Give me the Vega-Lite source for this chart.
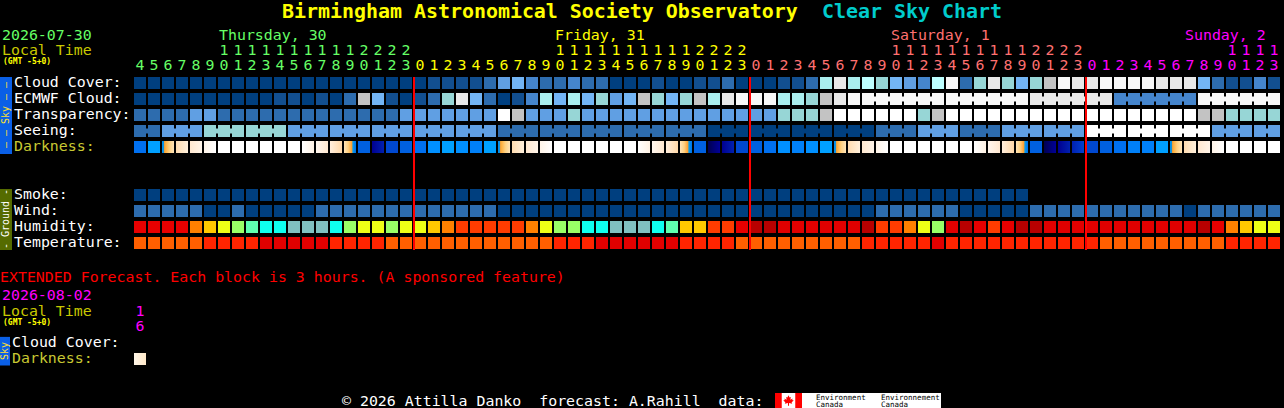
{
"$schema":"https://vega.github.io/schema/vega-lite/v6.json",
"width":1284,"height":408,"padding":0,"autosize":{"type":"none"},
"background":"#000000",
"config":{"view":{"stroke":null},"text":{"font":"DejaVu Sans Mono","fontSize":14.9,"align":"left","baseline":"alphabetic"}},
"resolve":{"scale":{"x":"independent","y":"independent","color":"independent"}},
"datasets":{
"cells":[
{"slot":0,"row":"Cloud","level":"c0"},{"slot":1,"row":"Cloud","level":"c0"},{"slot":2,"row":"Cloud","level":"c0"},{"slot":3,"row":"Cloud","level":"c0"},{"slot":4,"row":"Cloud","level":"c0"},{"slot":5,"row":"Cloud","level":"c0"},{"slot":6,"row":"Cloud","level":"c0"},{"slot":7,"row":"Cloud","level":"c0"},{"slot":8,"row":"Cloud","level":"c0"},{"slot":9,"row":"Cloud","level":"c0"},{"slot":10,"row":"Cloud","level":"c0"},{"slot":11,"row":"Cloud","level":"c0"},{"slot":12,"row":"Cloud","level":"c0"},{"slot":13,"row":"Cloud","level":"c0"},{"slot":14,"row":"Cloud","level":"c0"},{"slot":15,"row":"Cloud","level":"c0"},{"slot":16,"row":"Cloud","level":"c0"},{"slot":17,"row":"Cloud","level":"c0"},{"slot":18,"row":"Cloud","level":"c0"},{"slot":19,"row":"Cloud","level":"c0"},{"slot":20,"row":"Cloud","level":"c0"},{"slot":21,"row":"Cloud","level":"c1"},{"slot":22,"row":"Cloud","level":"c1"},{"slot":23,"row":"Cloud","level":"c1"},{"slot":24,"row":"Cloud","level":"c1"},{"slot":25,"row":"Cloud","level":"c2"},{"slot":26,"row":"Cloud","level":"c4"},{"slot":27,"row":"Cloud","level":"c5"},{"slot":28,"row":"Cloud","level":"c3"},{"slot":29,"row":"Cloud","level":"c2"},{"slot":30,"row":"Cloud","level":"c2"},{"slot":31,"row":"Cloud","level":"c3"},{"slot":32,"row":"Cloud","level":"c2"},{"slot":33,"row":"Cloud","level":"c2"},{"slot":34,"row":"Cloud","level":"c0"},{"slot":35,"row":"Cloud","level":"c0"},{"slot":36,"row":"Cloud","level":"c0"},{"slot":37,"row":"Cloud","level":"c1"},{"slot":38,"row":"Cloud","level":"c0"},{"slot":39,"row":"Cloud","level":"c0"},{"slot":40,"row":"Cloud","level":"c1"},{"slot":41,"row":"Cloud","level":"c1"},{"slot":42,"row":"Cloud","level":"c2"},{"slot":43,"row":"Cloud","level":"c0"},{"slot":44,"row":"Cloud","level":"c0"},{"slot":45,"row":"Cloud","level":"c0"},{"slot":46,"row":"Cloud","level":"c1"},{"slot":47,"row":"Cloud","level":"c1"},{"slot":48,"row":"Cloud","level":"c2"},{"slot":49,"row":"Cloud","level":"c7"},{"slot":50,"row":"Cloud","level":"c10"},{"slot":51,"row":"Cloud","level":"c7"},{"slot":52,"row":"Cloud","level":"c8"},{"slot":53,"row":"Cloud","level":"c6"},{"slot":54,"row":"Cloud","level":"c5"},{"slot":55,"row":"Cloud","level":"c4"},{"slot":56,"row":"Cloud","level":"c3"},{"slot":57,"row":"Cloud","level":"c8"},{"slot":58,"row":"Cloud","level":"c11"},{"slot":59,"row":"Cloud","level":"c2"},{"slot":60,"row":"Cloud","level":"c6"},{"slot":61,"row":"Cloud","level":"c10"},{"slot":62,"row":"Cloud","level":"c6"},{"slot":63,"row":"Cloud","level":"c5"},{"slot":64,"row":"Cloud","level":"c6"},{"slot":65,"row":"Cloud","level":"c9"},{"slot":66,"row":"Cloud","level":"c11"},{"slot":67,"row":"Cloud","level":"c10"},{"slot":68,"row":"Cloud","level":"c10"},{"slot":69,"row":"Cloud","level":"c11"},{"slot":70,"row":"Cloud","level":"c11"},{"slot":71,"row":"Cloud","level":"c11"},{"slot":72,"row":"Cloud","level":"c11"},{"slot":73,"row":"Cloud","level":"c10"},{"slot":74,"row":"Cloud","level":"c10"},{"slot":75,"row":"Cloud","level":"c10"},{"slot":76,"row":"Cloud","level":"c5"},{"slot":77,"row":"Cloud","level":"c2"},{"slot":78,"row":"Cloud","level":"c1"},{"slot":79,"row":"Cloud","level":"c1"},{"slot":80,"row":"Cloud","level":"c3"},{"slot":81,"row":"Cloud","level":"c1"},
{"slot":0,"row":"ECMWF","level":"c0"},{"slot":1,"row":"ECMWF","level":"c0"},{"slot":2,"row":"ECMWF","level":"c0"},{"slot":3,"row":"ECMWF","level":"c0"},{"slot":4,"row":"ECMWF","level":"c0"},{"slot":5,"row":"ECMWF","level":"c0"},{"slot":6,"row":"ECMWF","level":"c0"},{"slot":7,"row":"ECMWF","level":"c0"},{"slot":8,"row":"ECMWF","level":"c0"},{"slot":9,"row":"ECMWF","level":"c0"},{"slot":10,"row":"ECMWF","level":"c1"},{"slot":11,"row":"ECMWF","level":"c1"},{"slot":12,"row":"ECMWF","level":"c0"},{"slot":13,"row":"ECMWF","level":"c1"},{"slot":14,"row":"ECMWF","level":"c0"},{"slot":15,"row":"ECMWF","level":"c2"},{"slot":16,"row":"ECMWF","level":"c9"},{"slot":17,"row":"ECMWF","level":"c5"},{"slot":18,"row":"ECMWF","level":"c1"},{"slot":19,"row":"ECMWF","level":"c0"},{"slot":20,"row":"ECMWF","level":"c1"},{"slot":21,"row":"ECMWF","level":"c2"},{"slot":22,"row":"ECMWF","level":"c6"},{"slot":23,"row":"ECMWF","level":"c10"},{"slot":24,"row":"ECMWF","level":"c5"},{"slot":25,"row":"ECMWF","level":"c2"},{"slot":26,"row":"ECMWF","level":"c0"},{"slot":27,"row":"ECMWF","level":"c1"},{"slot":28,"row":"ECMWF","level":"c3"},{"slot":29,"row":"ECMWF","level":"c7"},{"slot":30,"row":"ECMWF","level":"c5"},{"slot":31,"row":"ECMWF","level":"c7"},{"slot":32,"row":"ECMWF","level":"c5"},{"slot":33,"row":"ECMWF","level":"c6"},{"slot":34,"row":"ECMWF","level":"c4"},{"slot":35,"row":"ECMWF","level":"c5"},{"slot":36,"row":"ECMWF","level":"c9"},{"slot":37,"row":"ECMWF","level":"c6"},{"slot":38,"row":"ECMWF","level":"c5"},{"slot":39,"row":"ECMWF","level":"c6"},{"slot":40,"row":"ECMWF","level":"c9"},{"slot":41,"row":"ECMWF","level":"c7"},{"slot":42,"row":"ECMWF","level":"c10"},{"slot":43,"row":"ECMWF","level":"c11"},{"slot":44,"row":"ECMWF","level":"c11"},{"slot":45,"row":"ECMWF","level":"c11"},{"slot":46,"row":"ECMWF","level":"c7"},{"slot":47,"row":"ECMWF","level":"c7"},{"slot":48,"row":"ECMWF","level":"c6"},{"slot":49,"row":"ECMWF","level":"c9"},{"slot":50,"row":"ECMWF","level":"c10"},{"slot":51,"row":"ECMWF","level":"c11"},{"slot":52,"row":"ECMWF","level":"c11","joined":1},{"slot":53,"row":"ECMWF","level":"c11","joined":1},{"slot":54,"row":"ECMWF","level":"c11","joined":1},{"slot":55,"row":"ECMWF","level":"c11","joined":1},{"slot":56,"row":"ECMWF","level":"c11","joined":1},{"slot":57,"row":"ECMWF","level":"c11"},{"slot":58,"row":"ECMWF","level":"c11","joined":1},{"slot":59,"row":"ECMWF","level":"c11","joined":1},{"slot":60,"row":"ECMWF","level":"c11","joined":1},{"slot":61,"row":"ECMWF","level":"c11","joined":1},{"slot":62,"row":"ECMWF","level":"c11","joined":1},{"slot":63,"row":"ECMWF","level":"c11"},{"slot":64,"row":"ECMWF","level":"c10","joined":1},{"slot":65,"row":"ECMWF","level":"c10","joined":1},{"slot":66,"row":"ECMWF","level":"c10","joined":1},{"slot":67,"row":"ECMWF","level":"c10","joined":1},{"slot":68,"row":"ECMWF","level":"c10","joined":1},{"slot":69,"row":"ECMWF","level":"c10"},{"slot":70,"row":"ECMWF","level":"c3","joined":1},{"slot":71,"row":"ECMWF","level":"c3","joined":1},{"slot":72,"row":"ECMWF","level":"c3","joined":1},{"slot":73,"row":"ECMWF","level":"c3","joined":1},{"slot":74,"row":"ECMWF","level":"c3","joined":1},{"slot":75,"row":"ECMWF","level":"c3"},{"slot":76,"row":"ECMWF","level":"c11","joined":1},{"slot":77,"row":"ECMWF","level":"c11","joined":1},{"slot":78,"row":"ECMWF","level":"c11","joined":1},{"slot":79,"row":"ECMWF","level":"c11","joined":1},{"slot":80,"row":"ECMWF","level":"c11","joined":1},{"slot":81,"row":"ECMWF","level":"c11"},
{"slot":0,"row":"Transparency","level":"c2"},{"slot":1,"row":"Transparency","level":"c2"},{"slot":2,"row":"Transparency","level":"c2"},{"slot":3,"row":"Transparency","level":"c2"},{"slot":4,"row":"Transparency","level":"c4"},{"slot":5,"row":"Transparency","level":"c4"},{"slot":6,"row":"Transparency","level":"c2"},{"slot":7,"row":"Transparency","level":"c2"},{"slot":8,"row":"Transparency","level":"c2"},{"slot":9,"row":"Transparency","level":"c2"},{"slot":10,"row":"Transparency","level":"c2"},{"slot":11,"row":"Transparency","level":"c2"},{"slot":12,"row":"Transparency","level":"c2"},{"slot":13,"row":"Transparency","level":"c2"},{"slot":14,"row":"Transparency","level":"c2"},{"slot":15,"row":"Transparency","level":"c2"},{"slot":16,"row":"Transparency","level":"c2"},{"slot":17,"row":"Transparency","level":"c2"},{"slot":18,"row":"Transparency","level":"c2"},{"slot":19,"row":"Transparency","level":"c4"},{"slot":20,"row":"Transparency","level":"c4"},{"slot":21,"row":"Transparency","level":"c4"},{"slot":22,"row":"Transparency","level":"c4"},{"slot":23,"row":"Transparency","level":"c4"},{"slot":24,"row":"Transparency","level":"c4"},{"slot":25,"row":"Transparency","level":"c4"},{"slot":26,"row":"Transparency","level":"c12"},{"slot":27,"row":"Transparency","level":"c9"},{"slot":28,"row":"Transparency","level":"c4"},{"slot":29,"row":"Transparency","level":"c4"},{"slot":30,"row":"Transparency","level":"c4"},{"slot":31,"row":"Transparency","level":"c6"},{"slot":32,"row":"Transparency","level":"c4"},{"slot":33,"row":"Transparency","level":"c4"},{"slot":34,"row":"Transparency","level":"c4"},{"slot":35,"row":"Transparency","level":"c4"},{"slot":36,"row":"Transparency","level":"c4"},{"slot":37,"row":"Transparency","level":"c4"},{"slot":38,"row":"Transparency","level":"c4"},{"slot":39,"row":"Transparency","level":"c4"},{"slot":40,"row":"Transparency","level":"c4"},{"slot":41,"row":"Transparency","level":"c4"},{"slot":42,"row":"Transparency","level":"c4"},{"slot":43,"row":"Transparency","level":"c4"},{"slot":44,"row":"Transparency","level":"c4"},{"slot":45,"row":"Transparency","level":"c4"},{"slot":46,"row":"Transparency","level":"c6"},{"slot":47,"row":"Transparency","level":"c6"},{"slot":48,"row":"Transparency","level":"c6"},{"slot":49,"row":"Transparency","level":"c9"},{"slot":50,"row":"Transparency","level":"c12"},{"slot":51,"row":"Transparency","level":"c12"},{"slot":52,"row":"Transparency","level":"c12"},{"slot":53,"row":"Transparency","level":"c12"},{"slot":54,"row":"Transparency","level":"c12"},{"slot":55,"row":"Transparency","level":"c12"},{"slot":56,"row":"Transparency","level":"c6"},{"slot":57,"row":"Transparency","level":"c9"},{"slot":58,"row":"Transparency","level":"c12"},{"slot":59,"row":"Transparency","level":"c12"},{"slot":60,"row":"Transparency","level":"c12"},{"slot":61,"row":"Transparency","level":"c12"},{"slot":62,"row":"Transparency","level":"c12"},{"slot":63,"row":"Transparency","level":"c12"},{"slot":64,"row":"Transparency","level":"c12"},{"slot":65,"row":"Transparency","level":"c12"},{"slot":66,"row":"Transparency","level":"c12"},{"slot":67,"row":"Transparency","level":"c12"},{"slot":68,"row":"Transparency","level":"c12"},{"slot":69,"row":"Transparency","level":"c12"},{"slot":70,"row":"Transparency","level":"c12"},{"slot":71,"row":"Transparency","level":"c12"},{"slot":72,"row":"Transparency","level":"c12"},{"slot":73,"row":"Transparency","level":"c12"},{"slot":74,"row":"Transparency","level":"c12"},{"slot":75,"row":"Transparency","level":"c12"},{"slot":76,"row":"Transparency","level":"c9"},{"slot":77,"row":"Transparency","level":"c9"},{"slot":78,"row":"Transparency","level":"c6"},{"slot":79,"row":"Transparency","level":"c6"},{"slot":80,"row":"Transparency","level":"c6"},{"slot":81,"row":"Transparency","level":"c6"},
{"slot":0,"row":"Seeing","level":"c2","joined":1},{"slot":1,"row":"Seeing","level":"c2"},{"slot":2,"row":"Seeing","level":"c4","joined":1},{"slot":3,"row":"Seeing","level":"c4","joined":1},{"slot":4,"row":"Seeing","level":"c4"},{"slot":5,"row":"Seeing","level":"c6","joined":1},{"slot":6,"row":"Seeing","level":"c6","joined":1},{"slot":7,"row":"Seeing","level":"c6"},{"slot":8,"row":"Seeing","level":"c6","joined":1},{"slot":9,"row":"Seeing","level":"c6","joined":1},{"slot":10,"row":"Seeing","level":"c6"},{"slot":11,"row":"Seeing","level":"c4","joined":1},{"slot":12,"row":"Seeing","level":"c4","joined":1},{"slot":13,"row":"Seeing","level":"c4"},{"slot":14,"row":"Seeing","level":"c4","joined":1},{"slot":15,"row":"Seeing","level":"c4","joined":1},{"slot":16,"row":"Seeing","level":"c4"},{"slot":17,"row":"Seeing","level":"c4","joined":1},{"slot":18,"row":"Seeing","level":"c4","joined":1},{"slot":19,"row":"Seeing","level":"c4"},{"slot":20,"row":"Seeing","level":"c4","joined":1},{"slot":21,"row":"Seeing","level":"c4","joined":1},{"slot":22,"row":"Seeing","level":"c4"},{"slot":23,"row":"Seeing","level":"c4","joined":1},{"slot":24,"row":"Seeing","level":"c4","joined":1},{"slot":25,"row":"Seeing","level":"c4"},{"slot":26,"row":"Seeing","level":"c2","joined":1},{"slot":27,"row":"Seeing","level":"c2","joined":1},{"slot":28,"row":"Seeing","level":"c2"},{"slot":29,"row":"Seeing","level":"c2","joined":1},{"slot":30,"row":"Seeing","level":"c2","joined":1},{"slot":31,"row":"Seeing","level":"c2"},{"slot":32,"row":"Seeing","level":"c2","joined":1},{"slot":33,"row":"Seeing","level":"c2","joined":1},{"slot":34,"row":"Seeing","level":"c2"},{"slot":35,"row":"Seeing","level":"c2","joined":1},{"slot":36,"row":"Seeing","level":"c2","joined":1},{"slot":37,"row":"Seeing","level":"c2"},{"slot":38,"row":"Seeing","level":"c2","joined":1},{"slot":39,"row":"Seeing","level":"c2","joined":1},{"slot":40,"row":"Seeing","level":"c2"},{"slot":41,"row":"Seeing","level":"c0","joined":1},{"slot":42,"row":"Seeing","level":"c0","joined":1},{"slot":43,"row":"Seeing","level":"c0"},{"slot":44,"row":"Seeing","level":"c0","joined":1},{"slot":45,"row":"Seeing","level":"c0","joined":1},{"slot":46,"row":"Seeing","level":"c0"},{"slot":47,"row":"Seeing","level":"c0","joined":1},{"slot":48,"row":"Seeing","level":"c0","joined":1},{"slot":49,"row":"Seeing","level":"c0"},{"slot":50,"row":"Seeing","level":"c0","joined":1},{"slot":51,"row":"Seeing","level":"c0","joined":1},{"slot":52,"row":"Seeing","level":"c0"},{"slot":53,"row":"Seeing","level":"c2","joined":1},{"slot":54,"row":"Seeing","level":"c2","joined":1},{"slot":55,"row":"Seeing","level":"c2"},{"slot":56,"row":"Seeing","level":"c4","joined":1},{"slot":57,"row":"Seeing","level":"c4","joined":1},{"slot":58,"row":"Seeing","level":"c4"},{"slot":59,"row":"Seeing","level":"c2","joined":1},{"slot":60,"row":"Seeing","level":"c2","joined":1},{"slot":61,"row":"Seeing","level":"c2"},{"slot":62,"row":"Seeing","level":"c4","joined":1},{"slot":63,"row":"Seeing","level":"c4","joined":1},{"slot":64,"row":"Seeing","level":"c4"},{"slot":65,"row":"Seeing","level":"c4","joined":1},{"slot":66,"row":"Seeing","level":"c4","joined":1},{"slot":67,"row":"Seeing","level":"c4"},{"slot":68,"row":"Seeing","level":"c12","joined":1},{"slot":69,"row":"Seeing","level":"c12","joined":1},{"slot":70,"row":"Seeing","level":"c12"},{"slot":71,"row":"Seeing","level":"c12","joined":1},{"slot":72,"row":"Seeing","level":"c12","joined":1},{"slot":73,"row":"Seeing","level":"c12"},{"slot":74,"row":"Seeing","level":"c12","joined":1},{"slot":75,"row":"Seeing","level":"c12","joined":1},{"slot":76,"row":"Seeing","level":"c12"},{"slot":77,"row":"Seeing","level":"c4","joined":1},{"slot":78,"row":"Seeing","level":"c4","joined":1},{"slot":79,"row":"Seeing","level":"c4"},{"slot":80,"row":"Seeing","level":"c4","joined":1},{"slot":81,"row":"Seeing","level":"c4"},
{"slot":0,"row":"Darkness","level":"b5"},{"slot":1,"row":"Darkness","level":"b8"},{"slot":2,"row":"Darkness","level":"sr"},{"slot":3,"row":"Darkness","level":"p1"},{"slot":4,"row":"Darkness","level":"p2"},{"slot":5,"row":"Darkness","level":"p3"},{"slot":6,"row":"Darkness","level":"w"},{"slot":7,"row":"Darkness","level":"w"},{"slot":8,"row":"Darkness","level":"w"},{"slot":9,"row":"Darkness","level":"w"},{"slot":10,"row":"Darkness","level":"w"},{"slot":11,"row":"Darkness","level":"w"},{"slot":12,"row":"Darkness","level":"p4"},{"slot":13,"row":"Darkness","level":"p5"},{"slot":14,"row":"Darkness","level":"p6"},{"slot":15,"row":"Darkness","level":"ss"},{"slot":16,"row":"Darkness","level":"b4"},{"slot":17,"row":"Darkness","level":"b1"},{"slot":18,"row":"Darkness","level":"b3"},{"slot":19,"row":"Darkness","level":"b4"},{"slot":20,"row":"Darkness","level":"b5"},{"slot":21,"row":"Darkness","level":"b7"},{"slot":22,"row":"Darkness","level":"b8"},{"slot":23,"row":"Darkness","level":"b7"},{"slot":24,"row":"Darkness","level":"b6"},{"slot":25,"row":"Darkness","level":"b8"},{"slot":26,"row":"Darkness","level":"sr"},{"slot":27,"row":"Darkness","level":"p1"},{"slot":28,"row":"Darkness","level":"p2"},{"slot":29,"row":"Darkness","level":"p3"},{"slot":30,"row":"Darkness","level":"w"},{"slot":31,"row":"Darkness","level":"w"},{"slot":32,"row":"Darkness","level":"w"},{"slot":33,"row":"Darkness","level":"w"},{"slot":34,"row":"Darkness","level":"w"},{"slot":35,"row":"Darkness","level":"w"},{"slot":36,"row":"Darkness","level":"p4"},{"slot":37,"row":"Darkness","level":"p5"},{"slot":38,"row":"Darkness","level":"p6"},{"slot":39,"row":"Darkness","level":"ss"},{"slot":40,"row":"Darkness","level":"b4"},{"slot":41,"row":"Darkness","level":"b0"},{"slot":42,"row":"Darkness","level":"b1"},{"slot":43,"row":"Darkness","level":"b3"},{"slot":44,"row":"Darkness","level":"b4"},{"slot":45,"row":"Darkness","level":"b5"},{"slot":46,"row":"Darkness","level":"b7"},{"slot":47,"row":"Darkness","level":"b6"},{"slot":48,"row":"Darkness","level":"b7"},{"slot":49,"row":"Darkness","level":"b8"},{"slot":50,"row":"Darkness","level":"sr"},{"slot":51,"row":"Darkness","level":"p1"},{"slot":52,"row":"Darkness","level":"p2"},{"slot":53,"row":"Darkness","level":"p3"},{"slot":54,"row":"Darkness","level":"w"},{"slot":55,"row":"Darkness","level":"w"},{"slot":56,"row":"Darkness","level":"w"},{"slot":57,"row":"Darkness","level":"w"},{"slot":58,"row":"Darkness","level":"w"},{"slot":59,"row":"Darkness","level":"w"},{"slot":60,"row":"Darkness","level":"p4"},{"slot":61,"row":"Darkness","level":"p5"},{"slot":62,"row":"Darkness","level":"p6"},{"slot":63,"row":"Darkness","level":"ss"},{"slot":64,"row":"Darkness","level":"b4"},{"slot":65,"row":"Darkness","level":"b0"},{"slot":66,"row":"Darkness","level":"b1"},{"slot":67,"row":"Darkness","level":"b2"},{"slot":68,"row":"Darkness","level":"b3"},{"slot":69,"row":"Darkness","level":"b4"},{"slot":70,"row":"Darkness","level":"b5"},{"slot":71,"row":"Darkness","level":"b6"},{"slot":72,"row":"Darkness","level":"b6"},{"slot":73,"row":"Darkness","level":"b8"},{"slot":74,"row":"Darkness","level":"sr"},{"slot":75,"row":"Darkness","level":"p1"},{"slot":76,"row":"Darkness","level":"p2"},{"slot":77,"row":"Darkness","level":"p3"},{"slot":78,"row":"Darkness","level":"w"},{"slot":79,"row":"Darkness","level":"w"},{"slot":80,"row":"Darkness","level":"w"},{"slot":81,"row":"Darkness","level":"w"},
{"slot":0,"row":"Smoke","level":"c0"},{"slot":1,"row":"Smoke","level":"c0"},{"slot":2,"row":"Smoke","level":"c0"},{"slot":3,"row":"Smoke","level":"c0"},{"slot":4,"row":"Smoke","level":"c0"},{"slot":5,"row":"Smoke","level":"c0"},{"slot":6,"row":"Smoke","level":"c0"},{"slot":7,"row":"Smoke","level":"c0"},{"slot":8,"row":"Smoke","level":"c0"},{"slot":9,"row":"Smoke","level":"c0"},{"slot":10,"row":"Smoke","level":"c0"},{"slot":11,"row":"Smoke","level":"c0"},{"slot":12,"row":"Smoke","level":"c0"},{"slot":13,"row":"Smoke","level":"c0"},{"slot":14,"row":"Smoke","level":"c0"},{"slot":15,"row":"Smoke","level":"c0"},{"slot":16,"row":"Smoke","level":"c0"},{"slot":17,"row":"Smoke","level":"c0"},{"slot":18,"row":"Smoke","level":"c0"},{"slot":19,"row":"Smoke","level":"c0"},{"slot":20,"row":"Smoke","level":"c0"},{"slot":21,"row":"Smoke","level":"c0"},{"slot":22,"row":"Smoke","level":"c0"},{"slot":23,"row":"Smoke","level":"c0"},{"slot":24,"row":"Smoke","level":"c0"},{"slot":25,"row":"Smoke","level":"c0"},{"slot":26,"row":"Smoke","level":"c0"},{"slot":27,"row":"Smoke","level":"c0"},{"slot":28,"row":"Smoke","level":"c0"},{"slot":29,"row":"Smoke","level":"c0"},{"slot":30,"row":"Smoke","level":"c0"},{"slot":31,"row":"Smoke","level":"c0"},{"slot":32,"row":"Smoke","level":"c0"},{"slot":33,"row":"Smoke","level":"c0"},{"slot":34,"row":"Smoke","level":"c0"},{"slot":35,"row":"Smoke","level":"c0"},{"slot":36,"row":"Smoke","level":"c0"},{"slot":37,"row":"Smoke","level":"c0"},{"slot":38,"row":"Smoke","level":"c0"},{"slot":39,"row":"Smoke","level":"c0"},{"slot":40,"row":"Smoke","level":"c0"},{"slot":41,"row":"Smoke","level":"c0"},{"slot":42,"row":"Smoke","level":"c0"},{"slot":43,"row":"Smoke","level":"c0"},{"slot":44,"row":"Smoke","level":"c0"},{"slot":45,"row":"Smoke","level":"c0"},{"slot":46,"row":"Smoke","level":"c0"},{"slot":47,"row":"Smoke","level":"c0"},{"slot":48,"row":"Smoke","level":"c0"},{"slot":49,"row":"Smoke","level":"c0"},{"slot":50,"row":"Smoke","level":"c0"},{"slot":51,"row":"Smoke","level":"c0"},{"slot":52,"row":"Smoke","level":"c0"},{"slot":53,"row":"Smoke","level":"c0"},{"slot":54,"row":"Smoke","level":"c0"},{"slot":55,"row":"Smoke","level":"c0"},{"slot":56,"row":"Smoke","level":"c0"},{"slot":57,"row":"Smoke","level":"c0"},{"slot":58,"row":"Smoke","level":"c0"},{"slot":59,"row":"Smoke","level":"c0"},{"slot":60,"row":"Smoke","level":"c0"},{"slot":61,"row":"Smoke","level":"c0"},{"slot":62,"row":"Smoke","level":"c0"},{"slot":63,"row":"Smoke","level":"c0"},
{"slot":0,"row":"Wind","level":"c2"},{"slot":1,"row":"Wind","level":"c2"},{"slot":2,"row":"Wind","level":"c2"},{"slot":3,"row":"Wind","level":"c2"},{"slot":4,"row":"Wind","level":"c2"},{"slot":5,"row":"Wind","level":"c0"},{"slot":6,"row":"Wind","level":"c0"},{"slot":7,"row":"Wind","level":"c2"},{"slot":8,"row":"Wind","level":"c0"},{"slot":9,"row":"Wind","level":"c0"},{"slot":10,"row":"Wind","level":"c0"},{"slot":11,"row":"Wind","level":"c0"},{"slot":12,"row":"Wind","level":"c0"},{"slot":13,"row":"Wind","level":"c2"},{"slot":14,"row":"Wind","level":"c2"},{"slot":15,"row":"Wind","level":"c2"},{"slot":16,"row":"Wind","level":"c2"},{"slot":17,"row":"Wind","level":"c2"},{"slot":18,"row":"Wind","level":"c2"},{"slot":19,"row":"Wind","level":"c2"},{"slot":20,"row":"Wind","level":"c2"},{"slot":21,"row":"Wind","level":"c2"},{"slot":22,"row":"Wind","level":"c2"},{"slot":23,"row":"Wind","level":"c2"},{"slot":24,"row":"Wind","level":"c2"},{"slot":25,"row":"Wind","level":"c2"},{"slot":26,"row":"Wind","level":"c0"},{"slot":27,"row":"Wind","level":"c0"},{"slot":28,"row":"Wind","level":"c0"},{"slot":29,"row":"Wind","level":"c0"},{"slot":30,"row":"Wind","level":"c0"},{"slot":31,"row":"Wind","level":"c0"},{"slot":32,"row":"Wind","level":"c0"},{"slot":33,"row":"Wind","level":"c0"},{"slot":34,"row":"Wind","level":"c0"},{"slot":35,"row":"Wind","level":"c0"},{"slot":36,"row":"Wind","level":"c0"},{"slot":37,"row":"Wind","level":"c0"},{"slot":38,"row":"Wind","level":"c0"},{"slot":39,"row":"Wind","level":"c0"},{"slot":40,"row":"Wind","level":"c0"},{"slot":41,"row":"Wind","level":"c0"},{"slot":42,"row":"Wind","level":"c0"},{"slot":43,"row":"Wind","level":"c0"},{"slot":44,"row":"Wind","level":"c0"},{"slot":45,"row":"Wind","level":"c0"},{"slot":46,"row":"Wind","level":"c0"},{"slot":47,"row":"Wind","level":"c0"},{"slot":48,"row":"Wind","level":"c0"},{"slot":49,"row":"Wind","level":"c0"},{"slot":50,"row":"Wind","level":"c0"},{"slot":51,"row":"Wind","level":"c0"},{"slot":52,"row":"Wind","level":"c0"},{"slot":53,"row":"Wind","level":"c2"},{"slot":54,"row":"Wind","level":"c2"},{"slot":55,"row":"Wind","level":"c2"},{"slot":56,"row":"Wind","level":"c2"},{"slot":57,"row":"Wind","level":"c2"},{"slot":58,"row":"Wind","level":"c2"},{"slot":59,"row":"Wind","level":"c0"},{"slot":60,"row":"Wind","level":"c0"},{"slot":61,"row":"Wind","level":"c0"},{"slot":62,"row":"Wind","level":"c0"},{"slot":63,"row":"Wind","level":"c0"},{"slot":64,"row":"Wind","level":"c2"},{"slot":65,"row":"Wind","level":"c2"},{"slot":66,"row":"Wind","level":"c2"},{"slot":67,"row":"Wind","level":"c2"},{"slot":68,"row":"Wind","level":"c2"},{"slot":69,"row":"Wind","level":"c2"},{"slot":70,"row":"Wind","level":"c2"},{"slot":71,"row":"Wind","level":"c2"},{"slot":72,"row":"Wind","level":"c2"},{"slot":73,"row":"Wind","level":"c2"},{"slot":74,"row":"Wind","level":"c2"},{"slot":75,"row":"Wind","level":"c0"},{"slot":76,"row":"Wind","level":"c2"},{"slot":77,"row":"Wind","level":"c2"},{"slot":78,"row":"Wind","level":"c2"},{"slot":79,"row":"Wind","level":"c2"},{"slot":80,"row":"Wind","level":"c2"},{"slot":81,"row":"Wind","level":"c2"},
{"slot":0,"row":"Humidity","level":"h1b"},{"slot":1,"row":"Humidity","level":"h1b"},{"slot":2,"row":"Humidity","level":"h1b"},{"slot":3,"row":"Humidity","level":"h1b"},{"slot":4,"row":"Humidity","level":"h3"},{"slot":5,"row":"Humidity","level":"h4"},{"slot":6,"row":"Humidity","level":"h5"},{"slot":7,"row":"Humidity","level":"h6"},{"slot":8,"row":"Humidity","level":"h7"},{"slot":9,"row":"Humidity","level":"h8"},{"slot":10,"row":"Humidity","level":"h8"},{"slot":11,"row":"Humidity","level":"h9"},{"slot":12,"row":"Humidity","level":"h9"},{"slot":13,"row":"Humidity","level":"h9"},{"slot":14,"row":"Humidity","level":"h8"},{"slot":15,"row":"Humidity","level":"h6"},{"slot":16,"row":"Humidity","level":"h5"},{"slot":17,"row":"Humidity","level":"h5"},{"slot":18,"row":"Humidity","level":"h6"},{"slot":19,"row":"Humidity","level":"h5"},{"slot":20,"row":"Humidity","level":"h5"},{"slot":21,"row":"Humidity","level":"h4"},{"slot":22,"row":"Humidity","level":"h3"},{"slot":23,"row":"Humidity","level":"h2"},{"slot":24,"row":"Humidity","level":"h2"},{"slot":25,"row":"Humidity","level":"h2"},{"slot":26,"row":"Humidity","level":"h2"},{"slot":27,"row":"Humidity","level":"h2"},{"slot":28,"row":"Humidity","level":"h3"},{"slot":29,"row":"Humidity","level":"h5"},{"slot":30,"row":"Humidity","level":"h6"},{"slot":31,"row":"Humidity","level":"h6"},{"slot":32,"row":"Humidity","level":"h8"},{"slot":33,"row":"Humidity","level":"h8"},{"slot":34,"row":"Humidity","level":"h9"},{"slot":35,"row":"Humidity","level":"h9"},{"slot":36,"row":"Humidity","level":"h9"},{"slot":37,"row":"Humidity","level":"h8"},{"slot":38,"row":"Humidity","level":"h7"},{"slot":39,"row":"Humidity","level":"h4"},{"slot":40,"row":"Humidity","level":"h4"},{"slot":41,"row":"Humidity","level":"h2"},{"slot":42,"row":"Humidity","level":"h2"},{"slot":43,"row":"Humidity","level":"h1b"},{"slot":44,"row":"Humidity","level":"h0"},{"slot":45,"row":"Humidity","level":"h0"},{"slot":46,"row":"Humidity","level":"h1"},{"slot":47,"row":"Humidity","level":"h1"},{"slot":48,"row":"Humidity","level":"h1"},{"slot":49,"row":"Humidity","level":"h1"},{"slot":50,"row":"Humidity","level":"h1"},{"slot":51,"row":"Humidity","level":"h1"},{"slot":52,"row":"Humidity","level":"h0"},{"slot":53,"row":"Humidity","level":"h2"},{"slot":54,"row":"Humidity","level":"h2"},{"slot":55,"row":"Humidity","level":"h3"},{"slot":56,"row":"Humidity","level":"h5"},{"slot":57,"row":"Humidity","level":"h6"},{"slot":58,"row":"Humidity","level":"h1"},{"slot":59,"row":"Humidity","level":"h0"},{"slot":60,"row":"Humidity","level":"h1b"},{"slot":61,"row":"Humidity","level":"h2"},{"slot":62,"row":"Humidity","level":"h1b"},{"slot":63,"row":"Humidity","level":"h0"},{"slot":64,"row":"Humidity","level":"h0"},{"slot":65,"row":"Humidity","level":"h1"},{"slot":66,"row":"Humidity","level":"h1"},{"slot":67,"row":"Humidity","level":"h1"},{"slot":68,"row":"Humidity","level":"h1"},{"slot":69,"row":"Humidity","level":"h1"},{"slot":70,"row":"Humidity","level":"h1"},{"slot":71,"row":"Humidity","level":"h1"},{"slot":72,"row":"Humidity","level":"h1"},{"slot":73,"row":"Humidity","level":"h1"},{"slot":74,"row":"Humidity","level":"h1"},{"slot":75,"row":"Humidity","level":"h1"},{"slot":76,"row":"Humidity","level":"h0"},{"slot":77,"row":"Humidity","level":"h1b"},{"slot":78,"row":"Humidity","level":"h3"},{"slot":79,"row":"Humidity","level":"h4"},{"slot":80,"row":"Humidity","level":"h5"},{"slot":81,"row":"Humidity","level":"h5"},
{"slot":0,"row":"Temperature","level":"t2"},{"slot":1,"row":"Temperature","level":"t2"},{"slot":2,"row":"Temperature","level":"t2"},{"slot":3,"row":"Temperature","level":"t2"},{"slot":4,"row":"Temperature","level":"t2"},{"slot":5,"row":"Temperature","level":"t1"},{"slot":6,"row":"Temperature","level":"t1"},{"slot":7,"row":"Temperature","level":"t1"},{"slot":8,"row":"Temperature","level":"t1"},{"slot":9,"row":"Temperature","level":"h1"},{"slot":10,"row":"Temperature","level":"h1"},{"slot":11,"row":"Temperature","level":"h1"},{"slot":12,"row":"Temperature","level":"h1"},{"slot":13,"row":"Temperature","level":"h1"},{"slot":14,"row":"Temperature","level":"t1"},{"slot":15,"row":"Temperature","level":"t1"},{"slot":16,"row":"Temperature","level":"t1"},{"slot":17,"row":"Temperature","level":"t1"},{"slot":18,"row":"Temperature","level":"t2"},{"slot":19,"row":"Temperature","level":"t2"},{"slot":20,"row":"Temperature","level":"t2"},{"slot":21,"row":"Temperature","level":"t2"},{"slot":22,"row":"Temperature","level":"t2"},{"slot":23,"row":"Temperature","level":"t2"},{"slot":24,"row":"Temperature","level":"t2"},{"slot":25,"row":"Temperature","level":"t2"},{"slot":26,"row":"Temperature","level":"t2"},{"slot":27,"row":"Temperature","level":"t2"},{"slot":28,"row":"Temperature","level":"t2"},{"slot":29,"row":"Temperature","level":"t2"},{"slot":30,"row":"Temperature","level":"t1"},{"slot":31,"row":"Temperature","level":"t1"},{"slot":32,"row":"Temperature","level":"t1"},{"slot":33,"row":"Temperature","level":"h1"},{"slot":34,"row":"Temperature","level":"h1"},{"slot":35,"row":"Temperature","level":"h1"},{"slot":36,"row":"Temperature","level":"h1"},{"slot":37,"row":"Temperature","level":"h1"},{"slot":38,"row":"Temperature","level":"h1"},{"slot":39,"row":"Temperature","level":"t1"},{"slot":40,"row":"Temperature","level":"t1"},{"slot":41,"row":"Temperature","level":"t1"},{"slot":42,"row":"Temperature","level":"t1"},{"slot":43,"row":"Temperature","level":"t2"},{"slot":44,"row":"Temperature","level":"t2"},{"slot":45,"row":"Temperature","level":"t2"},{"slot":46,"row":"Temperature","level":"t2"},{"slot":47,"row":"Temperature","level":"t2"},{"slot":48,"row":"Temperature","level":"t2"},{"slot":49,"row":"Temperature","level":"t2"},{"slot":50,"row":"Temperature","level":"t2"},{"slot":51,"row":"Temperature","level":"t2"},{"slot":52,"row":"Temperature","level":"t1"},{"slot":53,"row":"Temperature","level":"t1"},{"slot":54,"row":"Temperature","level":"t1"},{"slot":55,"row":"Temperature","level":"t1"},{"slot":56,"row":"Temperature","level":"t1"},{"slot":57,"row":"Temperature","level":"h1"},{"slot":58,"row":"Temperature","level":"t1"},{"slot":59,"row":"Temperature","level":"t1"},{"slot":60,"row":"Temperature","level":"t1"},{"slot":61,"row":"Temperature","level":"t1"},{"slot":62,"row":"Temperature","level":"t1"},{"slot":63,"row":"Temperature","level":"t1"},{"slot":64,"row":"Temperature","level":"t1"},{"slot":65,"row":"Temperature","level":"t1"},{"slot":66,"row":"Temperature","level":"t1"},{"slot":67,"row":"Temperature","level":"t1"},{"slot":68,"row":"Temperature","level":"t1"},{"slot":69,"row":"Temperature","level":"t2"},{"slot":70,"row":"Temperature","level":"t2"},{"slot":71,"row":"Temperature","level":"t2"},{"slot":72,"row":"Temperature","level":"t2"},{"slot":73,"row":"Temperature","level":"t2"},{"slot":74,"row":"Temperature","level":"t2"},{"slot":75,"row":"Temperature","level":"t2"},{"slot":76,"row":"Temperature","level":"t2"},{"slot":77,"row":"Temperature","level":"t2"},{"slot":78,"row":"Temperature","level":"t1"},{"slot":79,"row":"Temperature","level":"t1"},{"slot":80,"row":"Temperature","level":"t1"},{"slot":81,"row":"Temperature","level":"t1"}
],
"hours":[
{"slot":0,"hour":4,"day":"Thu"},{"slot":1,"hour":5,"day":"Thu"},{"slot":2,"hour":6,"day":"Thu"},{"slot":3,"hour":7,"day":"Thu"},{"slot":4,"hour":8,"day":"Thu"},{"slot":5,"hour":9,"day":"Thu"},{"slot":6,"hour":10,"day":"Thu"},{"slot":7,"hour":11,"day":"Thu"},{"slot":8,"hour":12,"day":"Thu"},{"slot":9,"hour":13,"day":"Thu"},{"slot":10,"hour":14,"day":"Thu"},{"slot":11,"hour":15,"day":"Thu"},{"slot":12,"hour":16,"day":"Thu"},{"slot":13,"hour":17,"day":"Thu"},{"slot":14,"hour":18,"day":"Thu"},{"slot":15,"hour":19,"day":"Thu"},{"slot":16,"hour":20,"day":"Thu"},{"slot":17,"hour":21,"day":"Thu"},{"slot":18,"hour":22,"day":"Thu"},{"slot":19,"hour":23,"day":"Thu"},
{"slot":20,"hour":0,"day":"Fri"},{"slot":21,"hour":1,"day":"Fri"},{"slot":22,"hour":2,"day":"Fri"},{"slot":23,"hour":3,"day":"Fri"},{"slot":24,"hour":4,"day":"Fri"},{"slot":25,"hour":5,"day":"Fri"},{"slot":26,"hour":6,"day":"Fri"},{"slot":27,"hour":7,"day":"Fri"},{"slot":28,"hour":8,"day":"Fri"},{"slot":29,"hour":9,"day":"Fri"},{"slot":30,"hour":10,"day":"Fri"},{"slot":31,"hour":11,"day":"Fri"},{"slot":32,"hour":12,"day":"Fri"},{"slot":33,"hour":13,"day":"Fri"},{"slot":34,"hour":14,"day":"Fri"},{"slot":35,"hour":15,"day":"Fri"},{"slot":36,"hour":16,"day":"Fri"},{"slot":37,"hour":17,"day":"Fri"},{"slot":38,"hour":18,"day":"Fri"},{"slot":39,"hour":19,"day":"Fri"},{"slot":40,"hour":20,"day":"Fri"},{"slot":41,"hour":21,"day":"Fri"},{"slot":42,"hour":22,"day":"Fri"},{"slot":43,"hour":23,"day":"Fri"},
{"slot":44,"hour":0,"day":"Sat"},{"slot":45,"hour":1,"day":"Sat"},{"slot":46,"hour":2,"day":"Sat"},{"slot":47,"hour":3,"day":"Sat"},{"slot":48,"hour":4,"day":"Sat"},{"slot":49,"hour":5,"day":"Sat"},{"slot":50,"hour":6,"day":"Sat"},{"slot":51,"hour":7,"day":"Sat"},{"slot":52,"hour":8,"day":"Sat"},{"slot":53,"hour":9,"day":"Sat"},{"slot":54,"hour":10,"day":"Sat"},{"slot":55,"hour":11,"day":"Sat"},{"slot":56,"hour":12,"day":"Sat"},{"slot":57,"hour":13,"day":"Sat"},{"slot":58,"hour":14,"day":"Sat"},{"slot":59,"hour":15,"day":"Sat"},{"slot":60,"hour":16,"day":"Sat"},{"slot":61,"hour":17,"day":"Sat"},{"slot":62,"hour":18,"day":"Sat"},{"slot":63,"hour":19,"day":"Sat"},{"slot":64,"hour":20,"day":"Sat"},{"slot":65,"hour":21,"day":"Sat"},{"slot":66,"hour":22,"day":"Sat"},{"slot":67,"hour":23,"day":"Sat"},
{"slot":68,"hour":0,"day":"Sun"},{"slot":69,"hour":1,"day":"Sun"},{"slot":70,"hour":2,"day":"Sun"},{"slot":71,"hour":3,"day":"Sun"},{"slot":72,"hour":4,"day":"Sun"},{"slot":73,"hour":5,"day":"Sun"},{"slot":74,"hour":6,"day":"Sun"},{"slot":75,"hour":7,"day":"Sun"},{"slot":76,"hour":8,"day":"Sun"},{"slot":77,"hour":9,"day":"Sun"},{"slot":78,"hour":10,"day":"Sun"},{"slot":79,"hour":11,"day":"Sun"},{"slot":80,"hour":12,"day":"Sun"},{"slot":81,"hour":13,"day":"Sun"}
]
},
"layer":[
{"data":{"name":"cells"},"mark":{"type":"rect","width":12,"height":12},
 "encoding":{
  "x":{"field":"slot","type":"quantitative","scale":{"domain":[0,81],"range":[140,1274]},"axis":null},
  "y":{"field":"row","type":"ordinal","scale":{"type":"point","domain":["Cloud","ECMWF","Transparency","Seeing","Darkness","gap1","gap2","Smoke","Wind","Humidity","Temperature"],"range":[83,243],"padding":0},"axis":null},
  "color":{"field":"level","type":"nominal","legend":null,"scale":{
   "domain":["c0","c1","c2","c3","c4","c5","c6","c7","c8","c9","c10","c11","c12","h0","h1","h1b","h2","h3","h4","h5","h6","h7","h8","h9","t1","t2","b0","b1","b2","b3","b4","b5","b6","b7","b8","w","sr","ss","p1","p2","p3","p4","p5","p6"],
   "range":["#003f7f","#124f90","#2d6cae","#4585cc","#609fe3","#73b5f5","#97d6d6","#aaeeee","#bdffff","#c3c3c3","#e8e8e8","#f7f7f7","#ffffff","#b80000","#e00000","#e80000","#ff3c00","#ff8000","#ffc800","#eeff16","#99ff66","#5fffb0","#0fffef","#80c0c0","#ff2400","#ff5f00","#000078","#000098","#0030c0","#0048d0","#0060e0","#0070f0","#0080f8","#0090ff","#00a0ff","#ffffff","#ffc060","#ffb050","#ffe8c8","#fff0dc","#fffaf4","#fffaf4","#fff0dc","#ffe4c0"]}}
 }},
{"data":{"name":"cells"},
 "encoding":{
  "x":{"field":"slot","type":"quantitative","scale":{"domain":[0,81],"range":[140,1274]},"axis":null},
  "y":{"field":"row","type":"ordinal","scale":{"type":"point","domain":["Cloud","ECMWF","Transparency","Seeing","Darkness","gap1","gap2","Smoke","Wind","Humidity","Temperature"],"range":[83,243],"padding":0},"axis":null}
 },
 "layer":[
  {"transform":[{"filter":"datum.level === 'b0'"}],"mark":{"type":"rect","width":12,"height":12,"color":{"gradient":"linear","x1":0,"y1":0,"x2":1,"y2":0,"stops":[{"offset":0,"color":"#000050"},{"offset":1,"color":"#000098"}]}}},
  {"transform":[{"filter":"datum.level === 'b1'"}],"mark":{"type":"rect","width":12,"height":12,"color":{"gradient":"linear","x1":0,"y1":0,"x2":1,"y2":0,"stops":[{"offset":0,"color":"#000090"},{"offset":1,"color":"#0020b0"}]}}},
  {"transform":[{"filter":"datum.level === 'b2'"}],"mark":{"type":"rect","width":12,"height":12,"color":{"gradient":"linear","x1":0,"y1":0,"x2":1,"y2":0,"stops":[{"offset":0,"color":"#0020b0"},{"offset":1,"color":"#0040d0"}]}}},
  {"transform":[{"filter":"datum.level === 'sr'"}],"mark":{"type":"rect","width":12,"height":12,"color":{"gradient":"linear","x1":0,"y1":0,"x2":1,"y2":0,"stops":[{"offset":0,"color":"#0090f0"},{"offset":0.12,"color":"#0090e8"},{"offset":0.2,"color":"#e8a040"},{"offset":0.3,"color":"#ffb040"},{"offset":0.6,"color":"#ffd080"},{"offset":1,"color":"#ffe4b8"}]}}},
  {"transform":[{"filter":"datum.level === 'ss'"}],"mark":{"type":"rect","width":12,"height":12,"color":{"gradient":"linear","x1":0,"y1":0,"x2":1,"y2":0,"stops":[{"offset":0,"color":"#ffe4b8"},{"offset":0.35,"color":"#ffd080"},{"offset":0.65,"color":"#ffa030"},{"offset":0.72,"color":"#40a0c0"},{"offset":0.8,"color":"#0090f0"},{"offset":1,"color":"#0070e8"}]}}},
  {"transform":[{"filter":"datum.level === 'p1'"}],"mark":{"type":"rect","width":12,"height":12,"color":{"gradient":"linear","x1":0,"y1":0,"x2":1,"y2":0,"stops":[{"offset":0,"color":"#ffdcb0"},{"offset":1,"color":"#fff0dc"}]}}},
  {"transform":[{"filter":"datum.level === 'p2'"}],"mark":{"type":"rect","width":12,"height":12,"color":{"gradient":"linear","x1":0,"y1":0,"x2":1,"y2":0,"stops":[{"offset":0,"color":"#ffe8d0"},{"offset":1,"color":"#fff4e8"}]}}},
  {"transform":[{"filter":"datum.level === 'p3'"}],"mark":{"type":"rect","width":12,"height":12,"color":{"gradient":"linear","x1":0,"y1":0,"x2":1,"y2":0,"stops":[{"offset":0,"color":"#fff4e8"},{"offset":1,"color":"#ffffff"}]}}},
  {"transform":[{"filter":"datum.level === 'p4'"}],"mark":{"type":"rect","width":12,"height":12,"color":{"gradient":"linear","x1":0,"y1":0,"x2":1,"y2":0,"stops":[{"offset":0,"color":"#ffffff"},{"offset":1,"color":"#fff2e4"}]}}},
  {"transform":[{"filter":"datum.level === 'p5'"}],"mark":{"type":"rect","width":12,"height":12,"color":{"gradient":"linear","x1":0,"y1":0,"x2":1,"y2":0,"stops":[{"offset":0,"color":"#fff6ee"},{"offset":1,"color":"#ffe8d0"}]}}},
  {"transform":[{"filter":"datum.level === 'p6'"}],"mark":{"type":"rect","width":12,"height":12,"color":{"gradient":"linear","x1":0,"y1":0,"x2":1,"y2":0,"stops":[{"offset":0,"color":"#ffeedd"},{"offset":1,"color":"#ffd8a8"}]}}}
 ]},
{"data":{"name":"cells"},"transform":[{"filter":"datum.joined"}],"mark":{"type":"rect","width":4,"height":5,"xOffset":7},
 "encoding":{
  "x":{"field":"slot","type":"quantitative","scale":{"domain":[0,81],"range":[140,1274]},"axis":null},
  "y":{"field":"row","type":"ordinal","scale":{"type":"point","domain":["Cloud","ECMWF","Transparency","Seeing","Darkness","gap1","gap2","Smoke","Wind","Humidity","Temperature"],"range":[83,243],"padding":0},"axis":null},
  "color":{"field":"level","type":"nominal","legend":null,"scale":{"domain":["c0","c2","c3","c4","c6","c10","c11","c12"],"range":["#003f7f","#2d6cae","#4585cc","#609fe3","#97d6d6","#e8e8e8","#f7f7f7","#ffffff"]}}
 }},
{"data":{"values":[{"slot":20},{"slot":44},{"slot":68}]},"mark":{"type":"rule","color":"#ff0000","strokeWidth":2,"xOffset":-6,"yOffset":-6,"y2Offset":7},
 "encoding":{
  "x":{"field":"slot","type":"quantitative","scale":{"domain":[0,81],"range":[140,1274]},"axis":null},
  "y":{"datum":"Cloud","type":"ordinal","scale":{"type":"point","domain":["Cloud","ECMWF","Transparency","Seeing","Darkness","gap1","gap2","Smoke","Wind","Humidity","Temperature"],"range":[83,243],"padding":0},"axis":null},
  "y2":{"datum":"Temperature"}
 }},
{"data":{"values":[{"start":"Cloud","end":"Darkness","tone":"sky"},{"start":"Smoke","end":"Temperature","tone":"ground"}]},"mark":{"type":"rect","yOffset":-6,"y2Offset":7},
 "encoding":{
  "x":{"datum":"edge","type":"ordinal","scale":{"type":"point","domain":["edge","inner"],"range":[0,12],"padding":0},"axis":null},
  "x2":{"datum":"inner"},
  "y":{"field":"start","type":"ordinal","scale":{"type":"point","domain":["Cloud","ECMWF","Transparency","Seeing","Darkness","gap1","gap2","Smoke","Wind","Humidity","Temperature"],"range":[83,243],"padding":0},"axis":null},
  "y2":{"field":"end"},
  "color":{"field":"tone","type":"nominal","legend":null,"scale":{"domain":["sky","ground"],"range":["#0a5fe6","#556b00"]}}
 }},
{"data":{"values":[{"row":"Transparency","label":"– – Sky – –"}]},"mark":{"type":"text","angle":270,"align":"center","baseline":"middle","fontSize":10,"color":"#ffe030"},
 "encoding":{
  "x":{"datum":"mid","type":"ordinal","scale":{"type":"point","domain":["mid"],"range":[6,6],"padding":0},"axis":null},
  "y":{"field":"row","type":"ordinal","scale":{"type":"point","domain":["Cloud","ECMWF","Transparency","Seeing","Darkness","gap1","gap2","Smoke","Wind","Humidity","Temperature"],"range":[83,243],"padding":0},"axis":null},
  "text":{"field":"label"}
 }},
{"data":{"values":[{"row":"Wind","label":"- Ground -"}]},"mark":{"type":"text","angle":270,"align":"center","baseline":"middle","fontSize":10,"color":"#ffffff","yOffset":8},
 "encoding":{
  "x":{"datum":"mid","type":"ordinal","scale":{"type":"point","domain":["mid"],"range":[6,6],"padding":0},"axis":null},
  "y":{"field":"row","type":"ordinal","scale":{"type":"point","domain":["Cloud","ECMWF","Transparency","Seeing","Darkness","gap1","gap2","Smoke","Wind","Humidity","Temperature"],"range":[83,243],"padding":0},"axis":null},
  "text":{"field":"label"}
 }},
{"data":{"values":[{"row":"Cloud","label":"Cloud Cover:"},{"row":"ECMWF","label":"ECMWF Cloud:"},{"row":"Transparency","label":"Transparency:"},{"row":"Seeing","label":"Seeing:"},{"row":"Darkness","label":"Darkness:"},{"row":"Smoke","label":"Smoke:"},{"row":"Wind","label":"Wind:"},{"row":"Humidity","label":"Humidity:"},{"row":"Temperature","label":"Temperature:"}]},
 "mark":{"type":"text","dy":4},
 "encoding":{
  "x":{"datum":"labels","type":"ordinal","scale":{"type":"point","domain":["labels"],"range":[14,14],"padding":0},"axis":null},
  "y":{"field":"row","type":"ordinal","scale":{"type":"point","domain":["Cloud","ECMWF","Transparency","Seeing","Darkness","gap1","gap2","Smoke","Wind","Humidity","Temperature"],"range":[83,243],"padding":0},"axis":null},
  "text":{"field":"label"},
  "color":{"condition":{"test":"datum.row === 'Darkness'","value":"#c8c832"},"value":"#ffffff"}
 }},
{"data":{"values":[{"col":"name","label":"Birmingham Astronomical Society Observatory"},{"col":"brand","label":"Clear Sky Chart"}]},
 "mark":{"type":"text","fontSize":19.93,"fontWeight":"bold"},
 "encoding":{
  "x":{"field":"col","type":"ordinal","scale":{"type":"point","domain":["name","brand"],"range":[282,822],"padding":0},"axis":null},
  "y":{"datum":"title","type":"ordinal","scale":{"type":"point","domain":["title"],"range":[18,18],"padding":0},"axis":null},
  "text":{"field":"label"},
  "color":{"field":"col","type":"nominal","legend":null,"scale":{"domain":["name","brand"],"range":["#ffff00","#00cccc"]}}
 }},
{"data":{"values":[{"line":"date","label":"2026-07-30","tone":"Thu"},{"line":"local","label":"Local Time","tone":"local"}]},
 "mark":{"type":"text"},
 "encoding":{
  "x":{"datum":"left","type":"ordinal","scale":{"type":"point","domain":["left"],"range":[2,2],"padding":0},"axis":null},
  "y":{"field":"line","type":"ordinal","scale":{"type":"point","domain":["date","local","hours"],"range":[40,70],"padding":0},"axis":null},
  "text":{"field":"label"},
  "color":{"field":"tone","type":"nominal","legend":null,"scale":{"domain":["Thu","local"],"range":["#66ff66","#c8c800"]}}
 }},
{"data":{"values":[{"line":"hours","label":"(GMT -5+0)"}]},
 "mark":{"type":"text","fontSize":8,"fontWeight":"bold","color":"#ffff00","dy":-6},
 "encoding":{
  "x":{"datum":"left","type":"ordinal","scale":{"type":"point","domain":["left"],"range":[3,3],"padding":0},"axis":null},
  "y":{"field":"line","type":"ordinal","scale":{"type":"point","domain":["date","local","hours"],"range":[40,70],"padding":0},"axis":null},
  "text":{"field":"label"}
 }},
{"data":{"values":[{"slot":6,"label":"Thursday, 30","day":"Thu"},{"slot":30,"label":"Friday, 31","day":"Fri"},{"slot":54,"label":"Saturday, 1","day":"Sat"},{"slot":75,"label":"Sunday, 2","day":"Sun"}]},
 "mark":{"type":"text","dx":-5},
 "encoding":{
  "x":{"field":"slot","type":"quantitative","scale":{"domain":[0,81],"range":[140,1274]},"axis":null},
  "y":{"datum":"date","type":"ordinal","scale":{"type":"point","domain":["date","local","hours"],"range":[40,70],"padding":0},"axis":null},
  "text":{"field":"label"},
  "color":{"field":"day","type":"nominal","legend":null,"scale":{"domain":["Thu","Fri","Sat","Sun"],"range":["#66ff66","#ffff00","#ff7070","#ff00ff"]}}
 }},
{"data":{"name":"hours"},"transform":[{"calculate":"datum.hour % 10","as":"digit"}],
 "mark":{"type":"text","align":"center"},
 "encoding":{
  "x":{"field":"slot","type":"quantitative","scale":{"domain":[0,81],"range":[140,1274]},"axis":null},
  "y":{"datum":"hours","type":"ordinal","scale":{"type":"point","domain":["date","local","hours"],"range":[40,70],"padding":0},"axis":null},
  "text":{"field":"digit","type":"nominal"},
  "color":{"field":"day","type":"nominal","legend":null,"scale":{"domain":["Thu","Fri","Sat","Sun"],"range":["#66ff66","#ffff00","#ff7070","#ff00ff"]}}
 }},
{"data":{"name":"hours"},"transform":[{"filter":"datum.hour >= 10"},{"calculate":"floor(datum.hour / 10)","as":"digit"}],
 "mark":{"type":"text","align":"center"},
 "encoding":{
  "x":{"field":"slot","type":"quantitative","scale":{"domain":[0,81],"range":[140,1274]},"axis":null},
  "y":{"datum":"local","type":"ordinal","scale":{"type":"point","domain":["date","local","hours"],"range":[40,70],"padding":0},"axis":null},
  "text":{"field":"digit","type":"nominal"},
  "color":{"field":"day","type":"nominal","legend":null,"scale":{"domain":["Thu","Fri","Sat","Sun"],"range":["#66ff66","#ffff00","#ff7070","#ff00ff"]}}
 }},
{"data":{"values":[{"label":"EXTENDED Forecast. Each block is 3 hours. (A sponsored feature)"}]},
 "mark":{"type":"text","color":"#ff0000"},
 "encoding":{
  "x":{"datum":"left","type":"ordinal","scale":{"type":"point","domain":["left"],"range":[0,0],"padding":0},"axis":null},
  "y":{"datum":"banner","type":"ordinal","scale":{"type":"point","domain":["banner"],"range":[281.5,281.5],"padding":0},"axis":null},
  "text":{"field":"label"}
 }},
{"data":{"values":[{"line":"date","label":"2026-08-02","tone":"Sun"},{"line":"local","label":"Local Time","tone":"local"}]},
 "mark":{"type":"text"},
 "encoding":{
  "x":{"datum":"left","type":"ordinal","scale":{"type":"point","domain":["left"],"range":[2,2],"padding":0},"axis":null},
  "y":{"field":"line","type":"ordinal","scale":{"type":"point","domain":["date","local","hours","cloud","dark"],"range":[300,362.5],"padding":0},"axis":null},
  "text":{"field":"label"},
  "color":{"field":"tone","type":"nominal","legend":null,"scale":{"domain":["Sun","local"],"range":["#ff00ff","#c8c800"]}}
 }},
{"data":{"values":[{"line":"hours","label":"(GMT -5+0)"}]},
 "mark":{"type":"text","fontSize":8,"fontWeight":"bold","color":"#ffff00","dy":-6},
 "encoding":{
  "x":{"datum":"left","type":"ordinal","scale":{"type":"point","domain":["left"],"range":[3,3],"padding":0},"axis":null},
  "y":{"field":"line","type":"ordinal","scale":{"type":"point","domain":["date","local","hours","cloud","dark"],"range":[300,362.5],"padding":0},"axis":null},
  "text":{"field":"label"}
 }},
{"data":{"values":[{"line":"cloud","label":"Cloud Cover:"},{"line":"dark","label":"Darkness:"}]},
 "mark":{"type":"text"},
 "encoding":{
  "x":{"datum":"labels","type":"ordinal","scale":{"type":"point","domain":["labels"],"range":[12,12],"padding":0},"axis":null},
  "y":{"field":"line","type":"ordinal","scale":{"type":"point","domain":["date","local","hours","cloud","dark"],"range":[300,362.5],"padding":0},"axis":null},
  "text":{"field":"label"},
  "color":{"condition":{"test":"datum.line === 'dark'","value":"#c8c832"},"value":"#ffffff"}
 }},
{"data":{"values":[{"slot":0,"line":"local","digit":"1"},{"slot":0,"line":"hours","digit":"6"}]},
 "mark":{"type":"text","align":"center","color":"#ff00ff"},
 "encoding":{
  "x":{"field":"slot","type":"quantitative","scale":{"domain":[0,81],"range":[140,1274]},"axis":null},
  "y":{"field":"line","type":"ordinal","scale":{"type":"point","domain":["date","local","hours","cloud","dark"],"range":[300,362.5],"padding":0},"axis":null},
  "text":{"field":"digit"}
 }},
{"data":{"values":[{"slot":0,"line":"dark"}]},
 "mark":{"type":"rect","width":12,"height":12,"yOffset":-3.5,"color":{"gradient":"linear","x1":0,"y1":0,"x2":1,"y2":0,"stops":[{"offset":0,"color":"#fff6e8"},{"offset":1,"color":"#ffe8c8"}]}},
 "encoding":{
  "x":{"field":"slot","type":"quantitative","scale":{"domain":[0,81],"range":[140,1274]},"axis":null},
  "y":{"field":"line","type":"ordinal","scale":{"type":"point","domain":["date","local","hours","cloud","dark"],"range":[300,362.5],"padding":0},"axis":null}
 }},
{"data":{"values":[{"start":"cloud","end":"dark"}]},
 "mark":{"type":"rect","color":"#0a5fe6","yOffset":-10,"y2Offset":3},
 "encoding":{
  "x":{"datum":"edge","type":"ordinal","scale":{"type":"point","domain":["edge","inner"],"range":[0,10],"padding":0},"axis":null},
  "x2":{"datum":"inner"},
  "y":{"field":"start","type":"ordinal","scale":{"type":"point","domain":["date","local","hours","cloud","dark"],"range":[300,362.5],"padding":0},"axis":null},
  "y2":{"field":"end"}
 }},
{"data":{"values":[{"label":"Sky"}]},
 "mark":{"type":"text","angle":270,"align":"center","baseline":"middle","fontSize":10,"color":"#ffe030"},
 "encoding":{
  "x":{"datum":"mid","type":"ordinal","scale":{"type":"point","domain":["mid"],"range":[5,5],"padding":0},"axis":null},
  "y":{"datum":"side","type":"ordinal","scale":{"type":"point","domain":["side"],"range":[351,351],"padding":0},"axis":null},
  "text":{"field":"label"}
 }},
{"data":{"values":[{"label":"© 2026 Attilla Danko\u00a0\u00a0forecast: A.Rahill\u00a0\u00a0data:"}]},
 "mark":{"type":"text","color":"#ffffff"},
 "encoding":{
  "x":{"datum":"left","type":"ordinal","scale":{"type":"point","domain":["left"],"range":[342,342],"padding":0},"axis":null},
  "y":{"datum":"footer","type":"ordinal","scale":{"type":"point","domain":["footer"],"range":[405.5,405.5],"padding":0},"axis":null},
  "text":{"field":"label"}
 }},
{"data":{"values":[{"from":"panelLeft","to":"panelRight"}]},
 "mark":{"type":"rect","color":"#ffffff"},
 "encoding":{
  "x":{"field":"from","type":"ordinal","scale":{"type":"point","domain":["panelLeft","panelRight"],"range":[775,941],"padding":0},"axis":null},
  "x2":{"field":"to"},
  "y":{"datum":"top","type":"ordinal","scale":{"type":"point","domain":["top","bottom"],"range":[393,408],"padding":0},"axis":null},
  "y2":{"datum":"bottom"}
 }},
{"data":{"values":[{"from":"q0","to":"q1"},{"from":"q3","to":"q4"}]},
 "mark":{"type":"rect","color":"#ff0000"},
 "encoding":{
  "x":{"field":"from","type":"ordinal","scale":{"type":"point","domain":["q0","q1","q2","q3","q4"],"range":[775,802],"padding":0},"axis":null},
  "x2":{"field":"to"},
  "y":{"datum":"top","type":"ordinal","scale":{"type":"point","domain":["top","bottom"],"range":[393,408],"padding":0},"axis":null},
  "y2":{"datum":"bottom"}
 }},
{"data":{"values":[{"at":"q2"}]},
 "mark":{"type":"point","filled":true,"color":"#ff0000","opacity":1,"size":110,"shape":"M0,-1 L0.2,-0.55 L0.45,-0.65 L0.35,-0.15 L0.8,-0.4 L0.7,-0.1 L1,0 L0.6,0.35 L0.7,0.6 L0.1,0.5 L0.1,1 L-0.1,1 L-0.1,0.5 L-0.7,0.6 L-0.6,0.35 L-1,0 L-0.7,-0.1 L-0.8,-0.4 L-0.35,-0.15 L-0.45,-0.65 L-0.2,-0.55 Z"},
 "encoding":{
  "x":{"field":"at","type":"ordinal","scale":{"type":"point","domain":["q0","q1","q2","q3","q4"],"range":[775,802],"padding":0},"axis":null},
  "y":{"datum":"mid","type":"ordinal","scale":{"type":"point","domain":["mid"],"range":[400.5,400.5],"padding":0},"axis":null}
 }},
{"data":{"values":[{"col":"en","line":"upper","label":"Environment"},{"col":"en","line":"lower","label":"Canada"},{"col":"fr","line":"upper","label":"Environnement"},{"col":"fr","line":"lower","label":"Canada"}]},
 "mark":{"type":"text","fontSize":7.5,"color":"#000000"},
 "encoding":{
  "x":{"field":"col","type":"ordinal","scale":{"type":"point","domain":["en","fr"],"range":[816,881],"padding":0},"axis":null},
  "y":{"field":"line","type":"ordinal","scale":{"type":"point","domain":["upper","lower"],"range":[400,407],"padding":0},"axis":null},
  "text":{"field":"label"}
 }}
]
}
